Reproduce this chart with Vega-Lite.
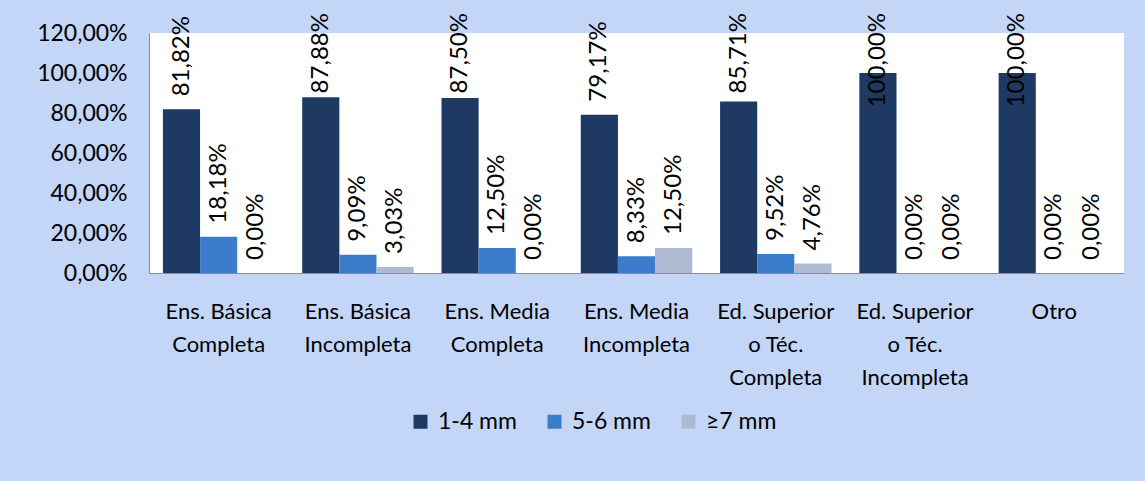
{
  "$schema": "https://vega.github.io/schema/vega-lite/v6.json",
  "width": 975,
  "height": 240,
  "autosize": "none",
  "padding": {"left": 149, "top": 33, "right": 21, "bottom": 208},
  "background": "#C4D6F8",
  "config": {
    "locale": {"number": {"decimal": ",", "thousands": ".", "grouping": [3], "currency": ["", " €"]}},
    "font": "Lato",
    "view": {"stroke": null, "fill": "white"},
    "axisY": {"labelOverlap": false, "labelFlush": false}
  },
  "data": {
    "values": [
      {"cat": "Ens. Básica|Completa", "series": "1-4 mm", "value": 0.8182},
      {"cat": "Ens. Básica|Completa", "series": "5-6 mm", "value": 0.1818},
      {"cat": "Ens. Básica|Completa", "series": "≥7 mm", "value": 0},
      {"cat": "Ens. Básica|Incompleta", "series": "1-4 mm", "value": 0.8788},
      {"cat": "Ens. Básica|Incompleta", "series": "5-6 mm", "value": 0.0909},
      {"cat": "Ens. Básica|Incompleta", "series": "≥7 mm", "value": 0.0303},
      {"cat": "Ens. Media|Completa", "series": "1-4 mm", "value": 0.875},
      {"cat": "Ens. Media|Completa", "series": "5-6 mm", "value": 0.125},
      {"cat": "Ens. Media|Completa", "series": "≥7 mm", "value": 0},
      {"cat": "Ens. Media|Incompleta", "series": "1-4 mm", "value": 0.7917},
      {"cat": "Ens. Media|Incompleta", "series": "5-6 mm", "value": 0.0833},
      {"cat": "Ens. Media|Incompleta", "series": "≥7 mm", "value": 0.125},
      {"cat": "Ed. Superior|o Téc.|Completa", "series": "1-4 mm", "value": 0.8571},
      {"cat": "Ed. Superior|o Téc.|Completa", "series": "5-6 mm", "value": 0.0952},
      {"cat": "Ed. Superior|o Téc.|Completa", "series": "≥7 mm", "value": 0.0476},
      {"cat": "Ed. Superior|o Téc.|Incompleta", "series": "1-4 mm", "value": 1},
      {"cat": "Ed. Superior|o Téc.|Incompleta", "series": "5-6 mm", "value": 0},
      {"cat": "Ed. Superior|o Téc.|Incompleta", "series": "≥7 mm", "value": 0},
      {"cat": "Otro", "series": "1-4 mm", "value": 1},
      {"cat": "Otro", "series": "5-6 mm", "value": 0},
      {"cat": "Otro", "series": "≥7 mm", "value": 0}
    ]
  },
  "encoding": {
    "x": {
      "field": "cat",
      "type": "nominal",
      "sort": null,
      "scale": {"paddingInner": 0.2, "paddingOuter": 0.1},
      "axis": {
        "title": null,
        "labelExpr": "split(datum.value, '|')",
        "labelFontSize": 22,
        "labelLineHeight": 33,
        "labelPadding": 28,
        "labelAngle": 0,
        "labelOverlap": false,
        "labelColor": "#000000",
        "ticks": false,
        "domainColor": "#8C8C8C"
      }
    },
    "xOffset": {
      "field": "series",
      "type": "nominal",
      "sort": ["1-4 mm", "5-6 mm", "≥7 mm"],
      "scale": {"paddingInner": 0, "paddingOuter": 0}
    },
    "y": {
      "field": "value",
      "type": "quantitative",
      "scale": {"domain": [0, 1.2], "nice": false},
      "axis": {
        "title": null,
        "format": ".2%",
        "values": [0, 0.2, 0.4, 0.6, 0.8, 1, 1.2],
        "labelOverlap": false,
        "labelFlush": false,
        "grid": false,
        "ticks": false,
        "labelPadding": 22,
        "labelFontSize": 23,
        "labelColor": "#000000",
        "domainColor": "#8C8C8C"
      }
    }
  },
  "layer": [
    {
      "mark": {"type": "bar"},
      "encoding": {
        "color": {
          "field": "series",
          "type": "nominal",
          "scale": {"domain": ["1-4 mm", "5-6 mm", "≥7 mm"], "range": ["#1E3A62", "#3B7DCA", "#ADBAD2"]},
          "legend": {
            "orient": "none",
            "legendX": 260,
            "legendY": 377,
            "direction": "horizontal",
            "title": null,
            "symbolType": "square",
            "symbolSize": 196,
            "symbolStrokeWidth": 0,
            "labelFontSize": 23,
            "labelColor": "#000000",
            "labelOffset": 6,
            "columnPadding": 26,
            "padding": 0
          }
        }
      }
    },
    {
      "transform": [{"filter": "datum.value < 0.85"}],
      "mark": {"type": "text", "angle": 270, "align": "left", "baseline": "middle", "dx": 13, "fontSize": 24, "color": "#000000"},
      "encoding": {
        "text": {"field": "value", "type": "quantitative", "format": ".2%"}
      }
    },
    {
      "transform": [{"filter": "datum.value >= 0.85"}],
      "mark": {"type": "text", "angle": 270, "align": "right", "baseline": "middle", "dx": 20, "fontSize": 24, "color": "#000000"},
      "encoding": {
        "y": {"datum": 1.2, "type": "quantitative"},
        "text": {"field": "value", "type": "quantitative", "format": ".2%"}
      }
    }
  ]
}
